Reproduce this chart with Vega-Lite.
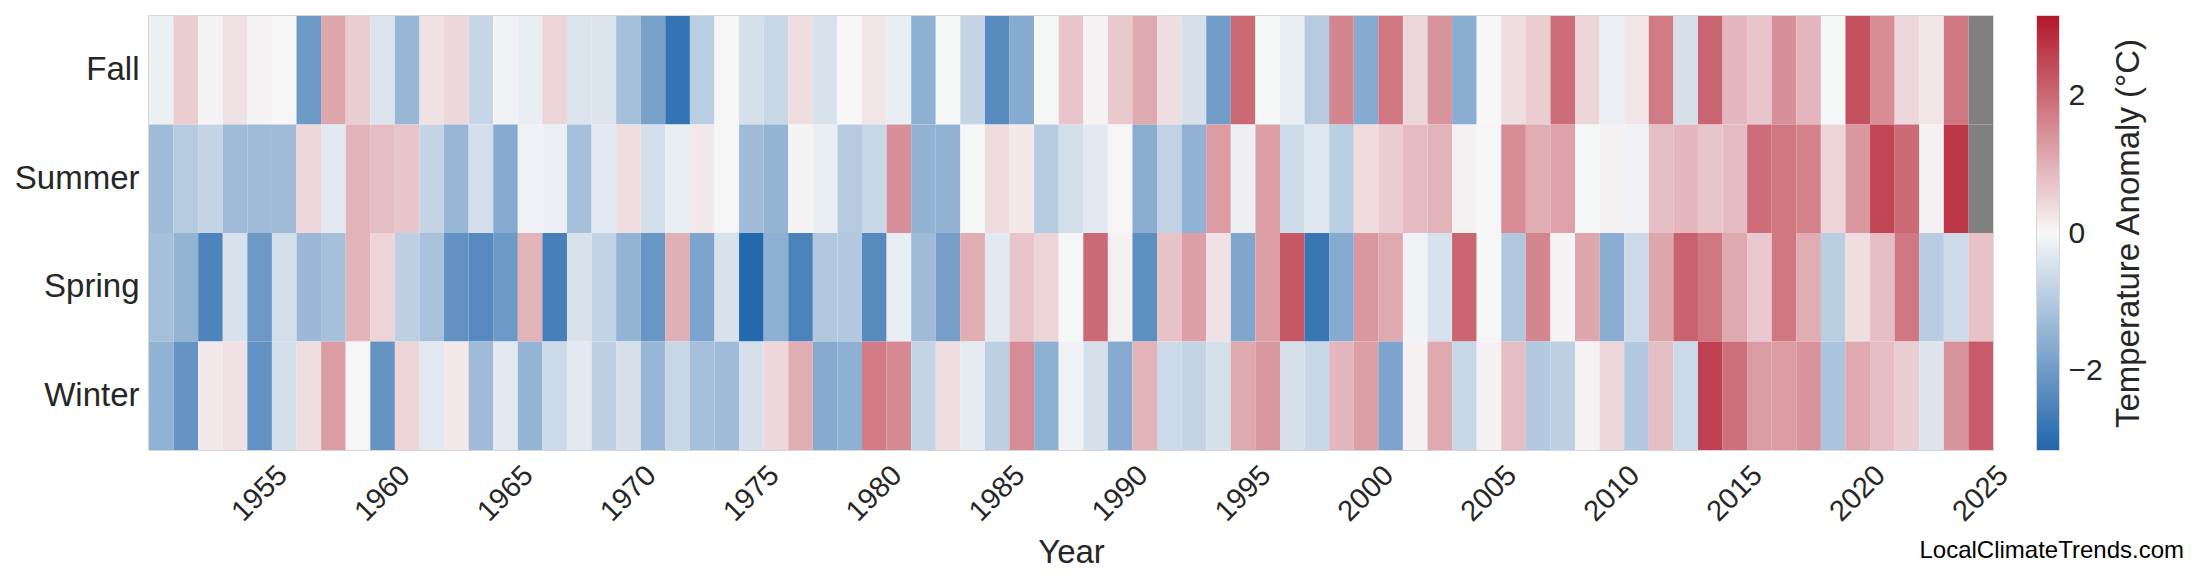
{
  "$schema": "https://vega.github.io/schema/vega-lite/v6.json",
  "autosize": {"type": "pad"},
  "padding": {"left": 13, "top": 15, "right": 0, "bottom": 0},
  "background": "white",
  "bounds": "flush",
  "spacing": 44,
  "config": {
    "font": "Liberation Sans",
    "view": {"stroke": "#cccccc", "strokeWidth": 1.5},
    "axis": {"domain": false, "ticks": false, "grid": false, "labelColor": "#262626", "titleColor": "#262626", "titleFontWeight": "normal", "titleFontSize": 33, "labelFont": "Liberation Sans", "titleFont": "Liberation Sans"}
  },
  "hconcat": [
    {
      "width": 1844,
      "height": 434,
      "title": {
        "text": "LocalClimateTrends.com",
        "orient": "bottom",
        "anchor": "end",
        "frame": "group",
        "fontSize": 24,
        "fontWeight": "normal",
        "color": "#000000",
        "font": "Liberation Sans",
        "dx": 191,
        "offset": -30
      },
      "data": {"values": [
        {"year":1951,"season":"Fall","anomaly":-0.15},{"year":1951,"season":"Summer","anomaly":-1.3},{"year":1951,"season":"Spring","anomaly":-1.2},{"year":1951,"season":"Winter","anomaly":-1.5},
        {"year":1952,"season":"Fall","anomaly":0.6},{"year":1952,"season":"Summer","anomaly":-0.95},{"year":1952,"season":"Spring","anomaly":-1.45},{"year":1952,"season":"Winter","anomaly":-2.15},
        {"year":1953,"season":"Fall","anomaly":0.05},{"year":1953,"season":"Summer","anomaly":-0.75},{"year":1953,"season":"Spring","anomaly":-2.5},{"year":1953,"season":"Winter","anomaly":0.2},
        {"year":1954,"season":"Fall","anomaly":0.3},{"year":1954,"season":"Summer","anomaly":-1.3},{"year":1954,"season":"Spring","anomaly":-0.45},{"year":1954,"season":"Winter","anomaly":0.3},
        {"year":1955,"season":"Fall","anomaly":0.05},{"year":1955,"season":"Summer","anomaly":-1.3},{"year":1955,"season":"Spring","anomaly":-2.05},{"year":1955,"season":"Winter","anomaly":-2.2},
        {"year":1956,"season":"Fall","anomaly":0.02},{"year":1956,"season":"Summer","anomaly":-1.3},{"year":1956,"season":"Spring","anomaly":-0.55},{"year":1956,"season":"Winter","anomaly":-0.55},
        {"year":1957,"season":"Fall","anomaly":-2.05},{"year":1957,"season":"Summer","anomaly":0.45},{"year":1957,"season":"Spring","anomaly":-1.35},{"year":1957,"season":"Winter","anomaly":0.35},
        {"year":1958,"season":"Fall","anomaly":1.15},{"year":1958,"season":"Summer","anomaly":-0.3},{"year":1958,"season":"Spring","anomaly":-1.2},{"year":1958,"season":"Winter","anomaly":1.3},
        {"year":1959,"season":"Fall","anomaly":0.6},{"year":1959,"season":"Summer","anomaly":0.95},{"year":1959,"season":"Spring","anomaly":0.95},{"year":1959,"season":"Winter","anomaly":-0.02},
        {"year":1960,"season":"Fall","anomaly":-0.4},{"year":1960,"season":"Summer","anomaly":0.8},{"year":1960,"season":"Spring","anomaly":0.5},{"year":1960,"season":"Winter","anomaly":-2.15},
        {"year":1961,"season":"Fall","anomaly":-1.4},{"year":1961,"season":"Summer","anomaly":0.7},{"year":1961,"season":"Spring","anomaly":-0.85},{"year":1961,"season":"Winter","anomaly":0.5},
        {"year":1962,"season":"Fall","anomaly":0.3},{"year":1962,"season":"Summer","anomaly":-0.75},{"year":1962,"season":"Spring","anomaly":-1.15},{"year":1962,"season":"Winter","anomaly":-0.3},
        {"year":1963,"season":"Fall","anomaly":0.45},{"year":1963,"season":"Summer","anomaly":-1.4},{"year":1963,"season":"Spring","anomaly":-2.2},{"year":1963,"season":"Winter","anomaly":0.2},
        {"year":1964,"season":"Fall","anomaly":-0.72},{"year":1964,"season":"Summer","anomaly":-0.55},{"year":1964,"season":"Spring","anomaly":-2.35},{"year":1964,"season":"Winter","anomaly":-1.3},
        {"year":1965,"season":"Fall","anomaly":-0.1},{"year":1965,"season":"Summer","anomaly":-1.65},{"year":1965,"season":"Spring","anomaly":-2.05},{"year":1965,"season":"Winter","anomaly":-0.3},
        {"year":1966,"season":"Fall","anomaly":-0.2},{"year":1966,"season":"Summer","anomaly":-0.12},{"year":1966,"season":"Spring","anomaly":0.95},{"year":1966,"season":"Winter","anomaly":-1.45},
        {"year":1967,"season":"Fall","anomaly":0.5},{"year":1967,"season":"Summer","anomaly":-0.18},{"year":1967,"season":"Spring","anomaly":-2.6},{"year":1967,"season":"Winter","anomaly":-0.65},
        {"year":1968,"season":"Fall","anomaly":-0.4},{"year":1968,"season":"Summer","anomaly":-1.2},{"year":1968,"season":"Spring","anomaly":-0.45},{"year":1968,"season":"Winter","anomaly":-0.3},
        {"year":1969,"season":"Fall","anomaly":-0.4},{"year":1969,"season":"Summer","anomaly":-0.3},{"year":1969,"season":"Spring","anomaly":-0.8},{"year":1969,"season":"Winter","anomaly":-0.85},
        {"year":1970,"season":"Fall","anomaly":-1.2},{"year":1970,"season":"Summer","anomaly":0.35},{"year":1970,"season":"Spring","anomaly":-1.45},{"year":1970,"season":"Winter","anomaly":-0.5},
        {"year":1971,"season":"Fall","anomaly":-1.85},{"year":1971,"season":"Summer","anomaly":-0.55},{"year":1971,"season":"Spring","anomaly":-2.1},{"year":1971,"season":"Winter","anomaly":-1.4},
        {"year":1972,"season":"Fall","anomaly":-2.85},{"year":1972,"season":"Summer","anomaly":-0.2},{"year":1972,"season":"Spring","anomaly":1.0},{"year":1972,"season":"Winter","anomaly":-0.7},
        {"year":1973,"season":"Fall","anomaly":-0.9},{"year":1973,"season":"Summer","anomaly":0.2},{"year":1973,"season":"Spring","anomaly":-1.8},{"year":1973,"season":"Winter","anomaly":-1.2},
        {"year":1974,"season":"Fall","anomaly":0.02},{"year":1974,"season":"Summer","anomaly":0.03},{"year":1974,"season":"Spring","anomaly":-0.45},{"year":1974,"season":"Winter","anomaly":-1.3},
        {"year":1975,"season":"Fall","anomaly":-0.5},{"year":1975,"season":"Summer","anomaly":-1.3},{"year":1975,"season":"Spring","anomaly":-3.1},{"year":1975,"season":"Winter","anomaly":-0.5},
        {"year":1976,"season":"Fall","anomaly":-0.7},{"year":1976,"season":"Summer","anomaly":-1.45},{"year":1976,"season":"Spring","anomaly":-1.55},{"year":1976,"season":"Winter","anomaly":0.45},
        {"year":1977,"season":"Fall","anomaly":0.35},{"year":1977,"season":"Summer","anomaly":0.05},{"year":1977,"season":"Spring","anomaly":-2.55},{"year":1977,"season":"Winter","anomaly":1.05},
        {"year":1978,"season":"Fall","anomaly":-0.45},{"year":1978,"season":"Summer","anomaly":-0.2},{"year":1978,"season":"Spring","anomaly":-1.05},{"year":1978,"season":"Winter","anomaly":-1.65},
        {"year":1979,"season":"Fall","anomaly":0.0},{"year":1979,"season":"Summer","anomaly":-0.95},{"year":1979,"season":"Spring","anomaly":-1.0},{"year":1979,"season":"Winter","anomaly":-1.55},
        {"year":1980,"season":"Fall","anomaly":0.25},{"year":1980,"season":"Summer","anomaly":-0.7},{"year":1980,"season":"Spring","anomaly":-2.35},{"year":1980,"season":"Winter","anomaly":1.75},
        {"year":1981,"season":"Fall","anomaly":-0.2},{"year":1981,"season":"Summer","anomaly":1.45},{"year":1981,"season":"Spring","anomaly":-0.2},{"year":1981,"season":"Winter","anomaly":1.55},
        {"year":1982,"season":"Fall","anomaly":-1.55},{"year":1982,"season":"Summer","anomaly":-1.5},{"year":1982,"season":"Spring","anomaly":-1.3},{"year":1982,"season":"Winter","anomaly":-0.75},
        {"year":1983,"season":"Fall","anomaly":-0.03},{"year":1983,"season":"Summer","anomaly":-1.5},{"year":1983,"season":"Spring","anomaly":-1.9},{"year":1983,"season":"Winter","anomaly":0.35},
        {"year":1984,"season":"Fall","anomaly":-0.75},{"year":1984,"season":"Summer","anomaly":-0.03},{"year":1984,"season":"Spring","anomaly":1.05},{"year":1984,"season":"Winter","anomaly":-0.25},
        {"year":1985,"season":"Fall","anomaly":-2.35},{"year":1985,"season":"Summer","anomaly":0.4},{"year":1985,"season":"Spring","anomaly":-0.3},{"year":1985,"season":"Winter","anomaly":-0.85},
        {"year":1986,"season":"Fall","anomaly":-1.65},{"year":1986,"season":"Summer","anomaly":0.2},{"year":1986,"season":"Spring","anomaly":0.7},{"year":1986,"season":"Winter","anomaly":1.5},
        {"year":1987,"season":"Fall","anomaly":-0.03},{"year":1987,"season":"Summer","anomaly":-0.95},{"year":1987,"season":"Spring","anomaly":0.5},{"year":1987,"season":"Winter","anomaly":-1.55},
        {"year":1988,"season":"Fall","anomaly":0.7},{"year":1988,"season":"Summer","anomaly":-0.55},{"year":1988,"season":"Spring","anomaly":-0.03},{"year":1988,"season":"Winter","anomaly":-0.1},
        {"year":1989,"season":"Fall","anomaly":0.05},{"year":1989,"season":"Summer","anomaly":-0.3},{"year":1989,"season":"Spring","anomaly":2.0},{"year":1989,"season":"Winter","anomaly":-0.5},
        {"year":1990,"season":"Fall","anomaly":0.65},{"year":1990,"season":"Summer","anomaly":0.03},{"year":1990,"season":"Spring","anomaly":0.08},{"year":1990,"season":"Winter","anomaly":-1.65},
        {"year":1991,"season":"Fall","anomaly":1.1},{"year":1991,"season":"Summer","anomaly":-1.6},{"year":1991,"season":"Spring","anomaly":-2.25},{"year":1991,"season":"Winter","anomaly":0.95},
        {"year":1992,"season":"Fall","anomaly":0.35},{"year":1992,"season":"Summer","anomaly":-0.8},{"year":1992,"season":"Spring","anomaly":0.75},{"year":1992,"season":"Winter","anomaly":-0.65},
        {"year":1993,"season":"Fall","anomaly":-0.5},{"year":1993,"season":"Summer","anomaly":-1.5},{"year":1993,"season":"Spring","anomaly":1.25},{"year":1993,"season":"Winter","anomaly":-0.75},
        {"year":1994,"season":"Fall","anomaly":-1.95},{"year":1994,"season":"Summer","anomaly":1.3},{"year":1994,"season":"Spring","anomaly":0.3},{"year":1994,"season":"Winter","anomaly":-0.5},
        {"year":1995,"season":"Fall","anomaly":2.0},{"year":1995,"season":"Summer","anomaly":-0.15},{"year":1995,"season":"Spring","anomaly":-1.75},{"year":1995,"season":"Winter","anomaly":1.1},
        {"year":1996,"season":"Fall","anomaly":-0.03},{"year":1996,"season":"Summer","anomaly":1.25},{"year":1996,"season":"Spring","anomaly":1.25},{"year":1996,"season":"Winter","anomaly":1.35},
        {"year":1997,"season":"Fall","anomaly":-0.2},{"year":1997,"season":"Summer","anomaly":-0.6},{"year":1997,"season":"Spring","anomaly":2.25},{"year":1997,"season":"Winter","anomaly":-0.5},
        {"year":1998,"season":"Fall","anomaly":-0.95},{"year":1998,"season":"Summer","anomaly":-0.35},{"year":1998,"season":"Spring","anomaly":-2.8},{"year":1998,"season":"Winter","anomaly":-0.7},
        {"year":1999,"season":"Fall","anomaly":1.6},{"year":1999,"season":"Summer","anomaly":-0.9},{"year":1999,"season":"Spring","anomaly":-1.65},{"year":1999,"season":"Winter","anomaly":0.9},
        {"year":2000,"season":"Fall","anomaly":-1.65},{"year":2000,"season":"Summer","anomaly":0.4},{"year":2000,"season":"Spring","anomaly":1.35},{"year":2000,"season":"Winter","anomaly":1.25},
        {"year":2001,"season":"Fall","anomaly":1.8},{"year":2001,"season":"Summer","anomaly":0.6},{"year":2001,"season":"Spring","anomaly":1.1},{"year":2001,"season":"Winter","anomaly":-1.8},
        {"year":2002,"season":"Fall","anomaly":0.45},{"year":2002,"season":"Summer","anomaly":0.85},{"year":2002,"season":"Spring","anomaly":-0.1},{"year":2002,"season":"Winter","anomaly":0.08},
        {"year":2003,"season":"Fall","anomaly":1.4},{"year":2003,"season":"Summer","anomaly":0.95},{"year":2003,"season":"Spring","anomaly":-0.45},{"year":2003,"season":"Winter","anomaly":1.1},
        {"year":2004,"season":"Fall","anomaly":-1.6},{"year":2004,"season":"Summer","anomaly":0.1},{"year":2004,"season":"Spring","anomaly":2.05},{"year":2004,"season":"Winter","anomaly":-0.7},
        {"year":2005,"season":"Fall","anomaly":0.0},{"year":2005,"season":"Summer","anomaly":0.03},{"year":2005,"season":"Spring","anomaly":-0.03},{"year":2005,"season":"Winter","anomaly":0.08},
        {"year":2006,"season":"Fall","anomaly":0.35},{"year":2006,"season":"Summer","anomaly":1.5},{"year":2006,"season":"Spring","anomaly":-1.05},{"year":2006,"season":"Winter","anomaly":0.8},
        {"year":2007,"season":"Fall","anomaly":0.6},{"year":2007,"season":"Summer","anomaly":1.05},{"year":2007,"season":"Spring","anomaly":1.6},{"year":2007,"season":"Winter","anomaly":-1.0},
        {"year":2008,"season":"Fall","anomaly":1.95},{"year":2008,"season":"Summer","anomaly":1.2},{"year":2008,"season":"Spring","anomaly":0.05},{"year":2008,"season":"Winter","anomaly":-0.85},
        {"year":2009,"season":"Fall","anomaly":0.5},{"year":2009,"season":"Summer","anomaly":-0.03},{"year":2009,"season":"Spring","anomaly":1.15},{"year":2009,"season":"Winter","anomaly":0.05},
        {"year":2010,"season":"Fall","anomaly":-0.17},{"year":2010,"season":"Summer","anomaly":0.1},{"year":2010,"season":"Spring","anomaly":-1.6},{"year":2010,"season":"Winter","anomaly":0.45},
        {"year":2011,"season":"Fall","anomaly":0.25},{"year":2011,"season":"Summer","anomaly":-0.12},{"year":2011,"season":"Spring","anomaly":-0.65},{"year":2011,"season":"Winter","anomaly":-1.0},
        {"year":2012,"season":"Fall","anomaly":1.75},{"year":2012,"season":"Summer","anomaly":0.8},{"year":2012,"season":"Spring","anomaly":1.15},{"year":2012,"season":"Winter","anomaly":0.8},
        {"year":2013,"season":"Fall","anomaly":-0.5},{"year":2013,"season":"Summer","anomaly":0.9},{"year":2013,"season":"Spring","anomaly":2.1},{"year":2013,"season":"Winter","anomaly":-0.65},
        {"year":2014,"season":"Fall","anomaly":2.05},{"year":2014,"season":"Summer","anomaly":0.7},{"year":2014,"season":"Spring","anomaly":1.8},{"year":2014,"season":"Winter","anomaly":2.55},
        {"year":2015,"season":"Fall","anomaly":0.9},{"year":2015,"season":"Summer","anomaly":0.85},{"year":2015,"season":"Spring","anomaly":1.1},{"year":2015,"season":"Winter","anomaly":1.9},
        {"year":2016,"season":"Fall","anomaly":0.7},{"year":2016,"season":"Summer","anomaly":1.95},{"year":2016,"season":"Spring","anomaly":0.65},{"year":2016,"season":"Winter","anomaly":1.3},
        {"year":2017,"season":"Fall","anomaly":1.45},{"year":2017,"season":"Summer","anomaly":1.8},{"year":2017,"season":"Spring","anomaly":1.8},{"year":2017,"season":"Winter","anomaly":1.28},
        {"year":2018,"season":"Fall","anomaly":0.9},{"year":2018,"season":"Summer","anomaly":1.65},{"year":2018,"season":"Spring","anomaly":1.05},{"year":2018,"season":"Winter","anomaly":1.42},
        {"year":2019,"season":"Fall","anomaly":-0.03},{"year":2019,"season":"Summer","anomaly":0.5},{"year":2019,"season":"Spring","anomaly":-0.9},{"year":2019,"season":"Winter","anomaly":-1.1},
        {"year":2020,"season":"Fall","anomaly":2.35},{"year":2020,"season":"Summer","anomaly":1.35},{"year":2020,"season":"Spring","anomaly":0.35},{"year":2020,"season":"Winter","anomaly":1.1},
        {"year":2021,"season":"Fall","anomaly":1.5},{"year":2021,"season":"Summer","anomaly":2.5},{"year":2021,"season":"Spring","anomaly":0.8},{"year":2021,"season":"Winter","anomaly":0.8},
        {"year":2022,"season":"Fall","anomaly":0.45},{"year":2022,"season":"Summer","anomaly":2.0},{"year":2022,"season":"Spring","anomaly":1.8},{"year":2022,"season":"Winter","anomaly":0.6},
        {"year":2023,"season":"Fall","anomaly":0.25},{"year":2023,"season":"Summer","anomaly":0.08},{"year":2023,"season":"Spring","anomaly":-0.92},{"year":2023,"season":"Winter","anomaly":-0.4},
        {"year":2024,"season":"Fall","anomaly":1.8},{"year":2024,"season":"Summer","anomaly":2.7},{"year":2024,"season":"Spring","anomaly":-0.6},{"year":2024,"season":"Winter","anomaly":1.4},
        {"year":2025,"season":"Fall","anomaly":null},{"year":2025,"season":"Summer","anomaly":null},{"year":2025,"season":"Spring","anomaly":0.75},{"year":2025,"season":"Winter","anomaly":2.2}
      ]},
      "encoding": {
        "x": {
          "field": "year", "type": "ordinal", "title": "Year",
          "scale": {"paddingInner": 0, "paddingOuter": 0},
          "axis": {
            "values": [1955,1960,1965,1970,1975,1980,1985,1990,1995,2000,2005,2010,2015,2020,2025],
            "labelAngle": -45, "labelAlign": "center", "labelBaseline": "middle",
            "labelFontSize": 29, "labelPadding": 43, "titlePadding": 10, "labelOverlap": false
          }
        },
        "y": {
          "field": "season", "type": "nominal", "title": null,
          "sort": ["Fall", "Summer", "Spring", "Winter"],
          "scale": {"paddingInner": 0, "paddingOuter": 0},
          "axis": {"labelFontSize": 33, "labelPadding": 10}
        }
      },
      "layer": [
        {
          "transform": [{"filter": "!isValid(datum.anomaly)"}],
          "mark": {"type": "rect", "strokeWidth": 0},
          "encoding": {"color": {"value": "#808080"}}
        },
        {
          "transform": [{"filter": "isValid(datum.anomaly)"}],
          "mark": {"type": "rect", "strokeWidth": 0},
          "encoding": {
            "color": {
              "field": "anomaly", "type": "quantitative",
              "scale": {"domain": [-3.15, 0, 3.15], "range": ["#2166ac", "#f7f7f7", "#b2182b"], "interpolate": "rgb"},
              "legend": null
            }
          }
        }
      ]
    },
    {
      "width": 22,
      "height": 434,
      "data": {"values": [{"bar": "colorbar"}]},
      "mark": {
        "type": "rect",
        "fill": {
          "gradient": "linear", "x1": 0, "y1": 1, "x2": 0, "y2": 0,
          "stops": [
            {"offset": 0, "color": "#2166ac"},
            {"offset": 0.5, "color": "#f7f7f7"},
            {"offset": 1, "color": "#b2182b"}
          ]
        }
      },
      "encoding": {
        "y": {
          "datum": -3.15, "type": "quantitative",
          "scale": {"domain": [-3.15, 3.15], "nice": false, "zero": false},
          "axis": {
            "orient": "right",
            "values": [-2, 0, 2],
            "labelExpr": "datum.value < 0 ? '−' + format(-datum.value, 'd') : format(datum.value, 'd')",
            "labelFontSize": 30, "labelPadding": 9,
            "title": "Temperature Anomaly (°C)",
            "titleFontSize": 33, "titleAngle": 270, "titleBaseline": "top", "titleAlign": "center",
            "titlePadding": 10, "titleLimit": 1000
          }
        },
        "y2": {"datum": 3.15}
      }
    }
  ]
}
